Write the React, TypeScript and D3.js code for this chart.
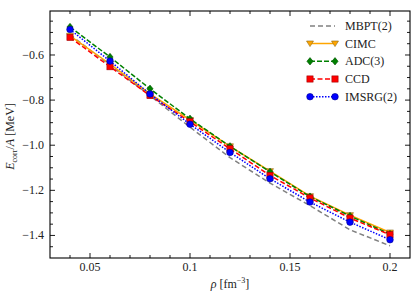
import React from "react";
import * as d3 from "d3";

const rho = [0.04, 0.06, 0.08, 0.1, 0.12, 0.14, 0.16, 0.18, 0.2];
const mbpt = [-0.51, -0.645, -0.78, -0.92, -1.055, -1.168, -1.268, -1.375, -1.446];
const cimc = [-0.515, -0.64, -0.772, -0.888, -1.005, -1.115, -1.226, -1.31, -1.387];
const adc = [-0.476, -0.609, -0.75, -0.883, -1.005, -1.118, -1.228, -1.314, -1.394];
const ccd = [-0.522, -0.652, -0.78, -0.896, -1.016, -1.134, -1.234, -1.323, -1.397];
const imsrg = [-0.487, -0.627, -0.773, -0.907, -1.032, -1.149, -1.252, -1.341, -1.419];

const xTicks = [0.05, 0.1, 0.15, 0.2];
const xTickLabels = ["0.05", "0.1", "0.15", "0.2"];
const yTicks = [-1.4, -1.2, -1.0, -0.8, -0.6];
const yTickLabels = ["\u22121.4", "\u22121.2", "\u22121.0", "\u22120.8", "\u22120.6"];
const seriesNames = ["MBPT(2)", "CIMC", "ADC(3)", "CCD", "IMSRG(2)"];

const W = 415, H = 296;
const L = 50, R = 410, T = 11, B = 258;
const FONT = "Liberation Serif";

export default function App() {
  const x = d3.scaleLinear().domain([0.03, 0.21]).range([L, R]);
  const y = d3.scaleLinear().domain([-1.5, -0.405]).range([B, T]);
  const line = (vals: number[]) =>
    d3.line<number>().x((_, i) => x(rho[i])).y((v) => y(v))(vals) || "";

  const xMinor = d3.range(0.04, 0.2001, 0.01).map((v) => +v.toFixed(3));
  const yMinor = d3.range(-1.45, -0.40, 0.05).map((v) => +v.toFixed(3));
  const isMajorX = (v: number) => xTicks.some((t) => Math.abs(t - v) < 1e-6);
  const isMajorY = (v: number) => yTicks.some((t) => Math.abs(t - v) < 1e-6);

  const series = [
    { name: seriesNames[0], vals: mbpt, color: "#808080", dash: "5,3", marker: "none" },
    { name: seriesNames[1], vals: cimc, color: "#FFA500", dash: "", marker: "tri" },
    { name: seriesNames[2], vals: adc, color: "#008000", dash: "5,2", marker: "diamond" },
    { name: seriesNames[3], vals: ccd, color: "#FF0000", dash: "5,2.5", marker: "square" },
    { name: seriesNames[4], vals: imsrg, color: "#0000FF", dash: "1.5,1.5", marker: "circle" },
  ];

  const edge: Record<string, string> = {
    tri: "#8B6914",
    diamond: "#005000",
    square: "#A00000",
    circle: "#000090",
  };

  const drawMarker = (m: string, cx: number, cy: number, color: string, key: string) => {
    const s = 3.1;
    if (m === "circle")
      return <circle key={key} cx={cx} cy={cy} r={s + 0.2} fill={color} stroke={edge[m]} strokeWidth={0.6} />;
    if (m === "square")
      return <rect key={key} x={cx - s} y={cy - s} width={2 * s} height={2 * s} fill={color} stroke={edge[m]} strokeWidth={0.6} />;
    if (m === "diamond")
      return (
        <path key={key} d={`M${cx},${cy - s - 0.6}L${cx + s},${cy}L${cx},${cy + s + 0.6}L${cx - s},${cy}Z`}
          fill={color} stroke={edge[m]} strokeWidth={0.6} />
      );
    if (m === "tri")
      return (
        <path key={key} d={`M${cx - s - 0.4},${cy - s + 0.6}L${cx + s + 0.4},${cy - s + 0.6}L${cx},${cy + s}Z`}
          fill={color} stroke={edge[m]} strokeWidth={0.6} />
      );
    return null;
  };

  const legX0 = 310, legX1 = 335, legText = 345;
  const legY = [26, 43.5, 61.3, 79, 96.7];

  return (
    <svg width={W} height={H} style={{ position: "absolute", left: 0, top: 0 }}>
      <rect x={0} y={0} width={W} height={H} fill="white" />
      {series.map((s, si) => (
        <g key={s.name}>
          <path d={line(s.vals)} fill="none" stroke={s.color} strokeWidth={1.5}
            strokeDasharray={s.dash || undefined} />
          {s.vals.map((v, i) => drawMarker(s.marker, x(rho[i]), y(v), s.color, `${si}-${i}`))}
        </g>
      ))}
      <rect x={L} y={T} width={R - L} height={B - T} fill="none" stroke="black" strokeWidth={1.1} />
      {xMinor.map((v) => {
        const len = isMajorX(v) ? 5 : 3;
        return (
          <g key={"xt" + v}>
            <line x1={x(v)} x2={x(v)} y1={B} y2={B - len} stroke="black" strokeWidth={0.9} />
            <line x1={x(v)} x2={x(v)} y1={T} y2={T + len} stroke="black" strokeWidth={0.9} />
          </g>
        );
      })}
      {yMinor.map((v) => {
        const len = isMajorY(v) ? 5 : 3;
        return (
          <g key={"yt" + v}>
            <line x1={L} x2={L + len} y1={y(v)} y2={y(v)} stroke="black" strokeWidth={0.9} />
            <line x1={R} x2={R - len} y1={y(v)} y2={y(v)} stroke="black" strokeWidth={0.9} />
          </g>
        );
      })}
      {xTicks.map((v, i) => (
        <text key={"xl" + v} x={x(v)} y={271} textAnchor="middle" fontFamily={FONT} fontSize={12} fill="#222">
          {xTickLabels[i]}
        </text>
      ))}
      {yTicks.map((v, i) => (
        <text key={"yl" + v} x={44} y={y(v) + 4} textAnchor="end" fontFamily={FONT} fontSize={12} fill="#222">
          {yTickLabels[i]}
        </text>
      ))}
      <text x={230} y={288} textAnchor="middle" fontFamily={FONT} fontSize={12} fill="#222">
        <tspan fontStyle="italic">ρ</tspan>
        <tspan> [fm</tspan>
        <tspan fontSize={8} dy={-5}>−3</tspan>
        <tspan dy={5}>]</tspan>
      </text>
      <text transform={`translate(14,${(T + B) / 2 + 2}) rotate(-90)`} textAnchor="middle" fontFamily={FONT} fontSize={12} fill="#222">
        <tspan fontStyle="italic">E</tspan>
        <tspan fontSize={8} dy={3}>corr</tspan>
        <tspan dy={-3}>/</tspan>
        <tspan fontStyle="italic">A</tspan>
        <tspan> [MeV]</tspan>
      </text>
      {series.map((s, i) => (
        <g key={"leg" + s.name}>
          <line x1={legX0} x2={legX1} y1={legY[i]} y2={legY[i]} stroke={s.color} strokeWidth={1.5}
            strokeDasharray={s.dash || undefined} />
          {drawMarker(s.marker, legX0, legY[i], s.color, "lm0" + i)}
          {drawMarker(s.marker, legX1, legY[i], s.color, "lm1" + i)}
          <text x={legText} y={legY[i] + 4} fontFamily={FONT} fontSize={12} fill="#222">{s.name}</text>
        </g>
      ))}
    </svg>
  );
}
